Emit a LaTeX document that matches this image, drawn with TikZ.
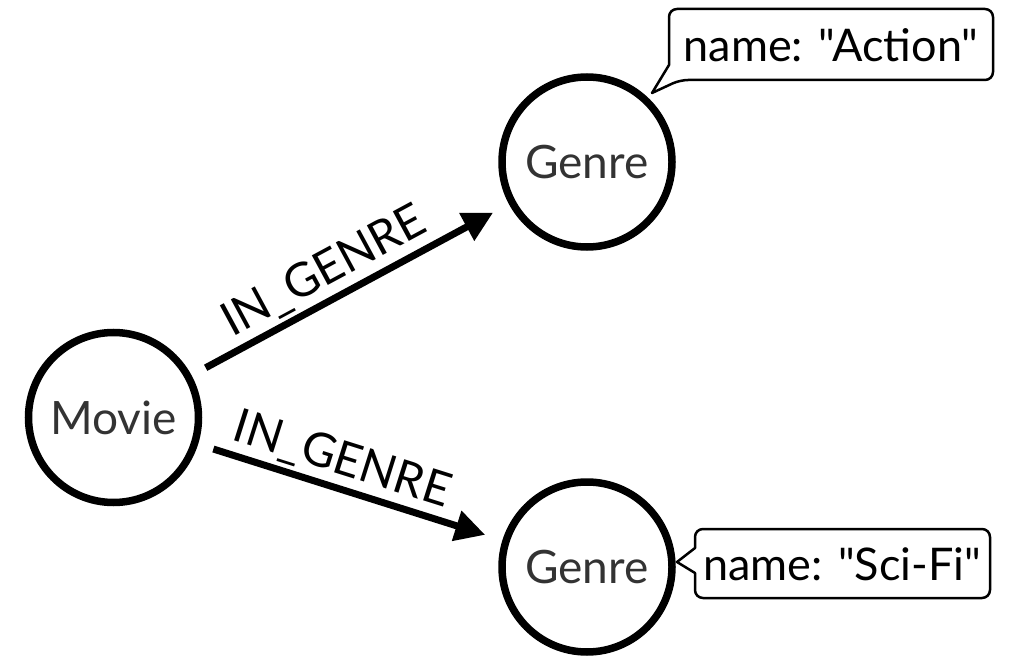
\documentclass[tikz,border=0pt]{standalone}
\usepackage{fontspec}
\setmainfont{Lato}[Ligatures=TeXOff]
\usetikzlibrary{arrows.meta,calc}
\begin{document}
\begin{tikzpicture}[x=1pt,y=-1pt,
  entity/.style={circle,draw=black,line width=7.5pt,minimum size=170pt,inner sep=0pt,
    font=\fontsize{46}{46}\selectfont,text=black!80},
  rel/.style={line width=7pt,-{Triangle[length=30pt,width=30pt]},shorten <=16pt,shorten >=18pt},
  rellabel/.style={sloped,above,inner sep=4pt,font=\fontsize{47}{47}\selectfont},
  proptext/.style={font=\fontsize{45}{45}\selectfont,inner sep=0pt},
  propbox/.style={draw=black,line width=2.5pt,line join=round}]
\useasboundingbox (0,0) rectangle (1009,668);

\node[entity] (movie) at (113.5,417.5) {Movie};
\node[entity] (action) at (587,162) {Genre};
\node[entity] (scifi) at (587,567) {Genre};

\draw[rel] (movie) -- node[rellabel,pos=0.46] (l1) {IN\_GENRE} (action);
\draw[rel] (movie) -- node[rellabel,pos=0.445] (l2) {IN\_GENRE} (scifi);

% property callouts
\node[proptext] (pa) at (831,45) {name: "Action"};
\node[proptext] (ps) at (842,564) {name: "Sci-Fi"};
\coordinate (pat) at (652,93);
\coordinate (pst) at (677,562);

\draw[propbox] (669,65) [rounded corners=8pt] -- (669,9) -- (993,9) -- (993,80) -- (680,80) [sharp corners] -- (pat) -- cycle;
\draw[propbox] (695,548) [rounded corners=8pt] -- (695,529) -- (990,529) -- (990,598) -- (695,598) [sharp corners] -- (695,573) -- (pst) -- cycle;
\end{tikzpicture}
\end{document}
